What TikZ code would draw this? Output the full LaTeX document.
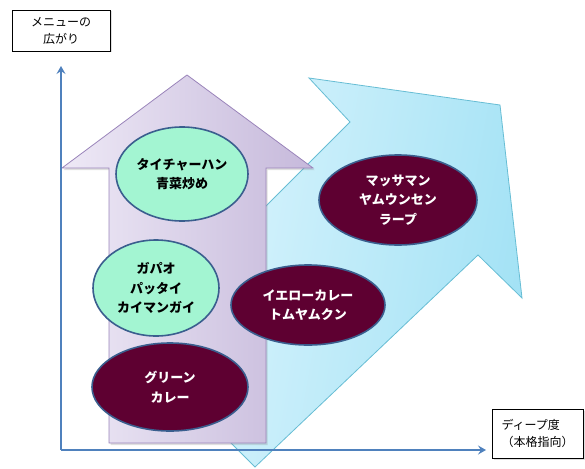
\documentclass[tikz,border=0pt]{standalone}
\usepackage{fontspec}
\newfontfamily\jp{Noto Sans CJK JP}
\usetikzlibrary{shapes.geometric,arrows.meta,shadows}
\definecolor{axisblue}{HTML}{4F81BD}
\definecolor{maroonfill}{HTML}{5E0031}
\definecolor{mintfill}{HTML}{A3F5D2}
\definecolor{rimblue}{HTML}{3A5E8E}
\definecolor{lavL}{HTML}{EEE9F6}
\definecolor{lavR}{HTML}{C6B9DB}
\definecolor{lavE}{HTML}{9A84BA}
\definecolor{skyL}{HTML}{E3F7FE}
\definecolor{skyR}{HTML}{A3E2F5}
\definecolor{skyE}{HTML}{67BDD4}
\begin{document}
\begin{tikzpicture}[x=1pt,y=-1pt,
  axis/.style={draw=axisblue,line width=2pt,-{Stealth[length=8pt,width=9pt,inset=3pt]}},
  labelbox/.style={draw=black,line width=0.8pt,fill=white,inner sep=0pt,align=center,
    font=\jp\fontsize{12}{17}\selectfont,
    drop shadow={opacity=0.25,shadow xshift=1.5pt,shadow yshift=-1.5pt}},
  dish/.style={ellipse,inner sep=0pt,align=center,line width=1.6pt,draw=rimblue,
    font=\jp\bfseries\fontsize{13}{19.5}\selectfont},
  darkdish/.style={dish,fill=maroonfill,text=white},
  lightdish/.style={dish,fill=mintfill,text=black}]
\useasboundingbox (0,0) rectangle (585,468);
% blue broad arrow (behind)
\path[draw=skyE,line width=0.8pt,top color=skyL,bottom color=skyR,shading angle=80]
  (309,78) -- (500,105) -- (522,298) -- (478,255) -- (255,467) -- (130,342) -- (350,122) -- cycle;
% purple up arrow
\path[draw=lavE,line width=0.8pt,left color=lavL,right color=lavR,
  drop shadow={opacity=0.25,shadow xshift=1.5pt,shadow yshift=-2pt}]
  (187,75) -- (313,168) -- (266,168) -- (266,443) -- (109,443) -- (109,168) -- (62,168) -- cycle;
% axes
\coordinate (O) at (61,450);
\coordinate (Ytop) at (61,66);
\coordinate (Xend) at (486,450);
\draw[axis] (O) -- (Ytop);
\draw[axis] (O) -- (Xend);
% axis labels
\node[labelbox,minimum width=98pt,minimum height=41pt] (ylab) at (61,30.5) {メニューの\\広がり};
\node[labelbox,minimum width=91pt,minimum height=49pt,align=left] (xlab) at (537.5,433.5) {ディープ度\\（本格指向）};
% dishes
\node[lightdish,minimum width=132pt,minimum height=94pt] (d1) at (182,174) {タイチャーハン\\青菜炒め};
\node[lightdish,minimum width=126pt,minimum height=96pt] (d2) at (156,288) {ガパオ\\パッタイ\\カイマンガイ};
\node[darkdish,minimum width=156pt,minimum height=88pt] (d3) at (170,387) {グリーン\\カレー};
\node[darkdish,minimum width=154pt,minimum height=80pt] (d4) at (308,305) {イエローカレー\\トムヤムクン};
\node[darkdish,minimum width=158pt,minimum height=90pt] (d5) at (398,200) {マッサマン\\ヤムウンセン\\ラープ};
\end{tikzpicture}
\end{document}
